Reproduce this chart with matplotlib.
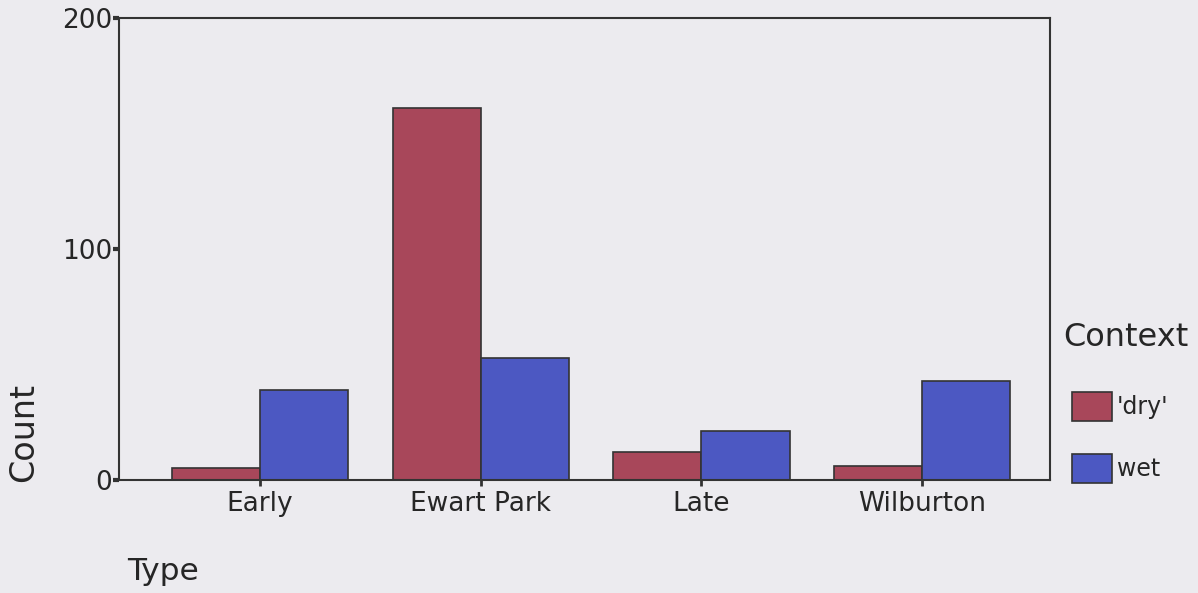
import matplotlib.pyplot as plt
import numpy as np
from matplotlib.patches import Patch

plt.rcParams["font.family"] = ["DejaVu Sans"]

types = ["Early", "Ewart Park", "Late", "Wilburton"]
dry = [5, 161, 12, 6]
wet = [39, 53, 21, 43]
y_ticks = [0, 100, 200]

BG = "#ECEBEF"
DRY = "#A8475A"
WET = "#4C58C2"
EDGE = "#333333"
TXT = "#262626"

fig = plt.figure(figsize=(11.98, 5.93), dpi=100)
fig.patch.set_facecolor(BG)
ax = fig.add_axes([0.0993, 0.1906, 0.7772, 0.779])
ax.set_facecolor(BG)

x = np.arange(len(types))
w = 0.4
ax.bar(x - w / 2, dry, w, color=DRY, edgecolor=EDGE, linewidth=1.2)
ax.bar(x + w / 2, wet, w, color=WET, edgecolor=EDGE, linewidth=1.2)

ax.set_xlim(-0.64, 3.58)
ax.set_ylim(0, 200)
ax.set_xticks(x)
ax.set_xticklabels(types, fontsize=19, color=TXT)
ax.set_yticks(y_ticks)
ax.set_yticklabels([str(t) for t in y_ticks], fontsize=19, color=TXT)
ax.tick_params(axis="y", direction="out", length=4, width=3, pad=1, color=EDGE)
ax.tick_params(axis="x", direction="out", length=4, width=2, pad=4, color=EDGE)
for s in ax.spines.values():
    s.set_color(EDGE)
    s.set_linewidth(1.5)

fig.text(24 / 1198, 1 - 432 / 593, "Count", rotation=90, fontsize=24,
         ha="center", va="center", color=TXT)
fig.text(127 / 1198, 1 - 571 / 593, "Type", fontsize=22.5,
         ha="left", va="center", color=TXT)

# legend: title as separate text so the swatches sit slightly indented
fig.text(1063 / 1198, 1 - 338 / 593, "Context", fontsize=23,
         ha="left", va="center", color=TXT)
handles = [Patch(facecolor=DRY, edgecolor=EDGE, linewidth=1.2),
           Patch(facecolor=WET, edgecolor=EDGE, linewidth=1.2)]
leg = fig.legend(handles, ["'dry'", "wet"],
                 loc="upper left", bbox_to_anchor=(1072 / 1198, 1 - 392 / 593),
                 frameon=False, fontsize=17,
                 handlelength=1.7, handleheight=1.515, handletextpad=0.2,
                 labelspacing=1.38, borderpad=0, borderaxespad=0)
for t in leg.get_texts():
    t.set_color(TXT)

fig.savefig("out.png", dpi=100, facecolor=fig.get_facecolor())
